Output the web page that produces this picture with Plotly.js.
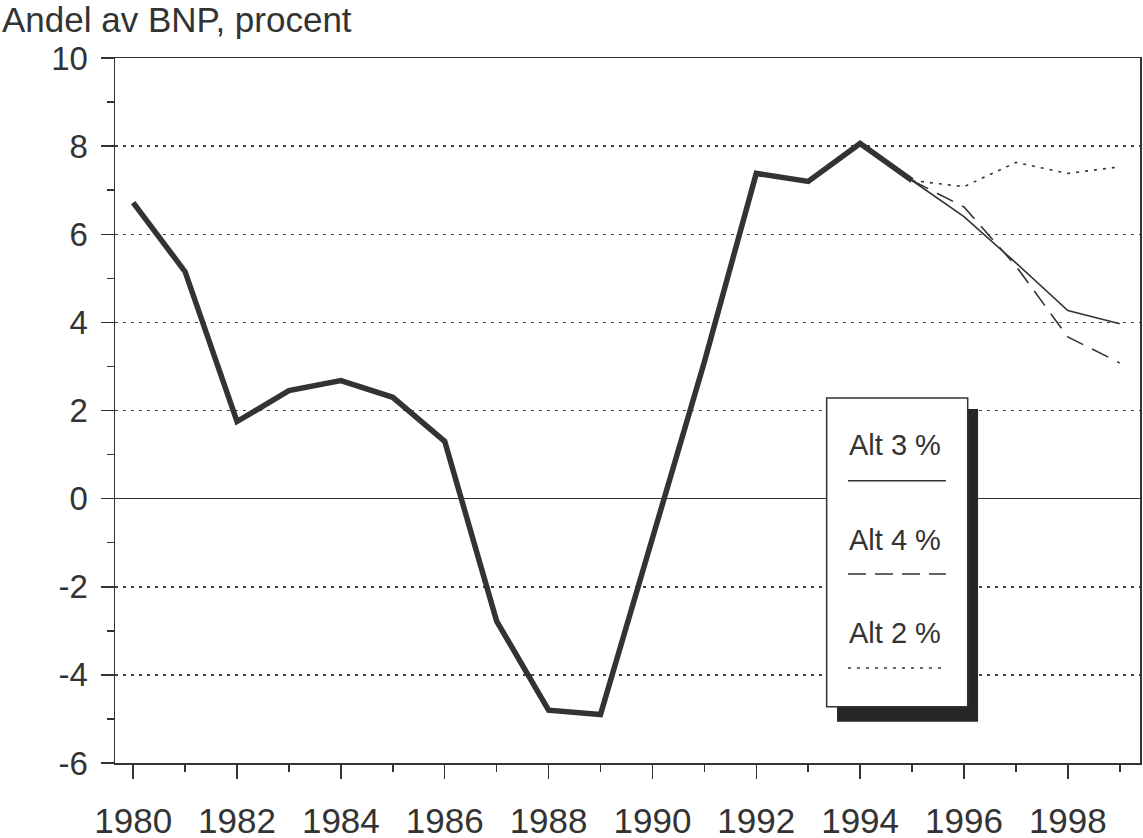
<!DOCTYPE html>
<html>
<head>
<meta charset="utf-8">
<script src="https://cdn.plot.ly/plotly-3.0.1.min.js"></script>
<style>html,body{margin:0;padding:0;background:#fff;}#chart{width:1143px;height:838px;}</style>
</head>
<body>
<div id="chart"></div>
<script>
// Data
const histYears = [1980,1981,1982,1983,1984,1985,1986,1987,1988,1989,1990,1991,1992,1993,1994,1995];
const histValues = [6.72,5.15,1.75,2.45,2.68,2.3,1.3,-2.78,-4.8,-4.9,-0.9,3.1,7.38,7.2,8.06,7.22];
const projYears = [1995,1996,1997,1998,1999];
const alt3 = [7.22,6.4,5.35,4.27,3.97];
const alt4 = [7.22,6.62,5.28,3.67,3.08];
const alt2 = [7.22,7.08,7.63,7.38,7.53];
const seriesNames = ['Alt 3 %','Alt 4 %','Alt 2 %'];
const xTickVals = [1980,1982,1984,1986,1988,1990,1992,1994,1996,1998];
const xTickText = ['1980','1982','1984','1986','1988','1990','1992','1994','1996','1998'];
const yTickVals = [-6,-4,-2,0,2,4,6,8,10];
const yTickText = ['-6','-4','-2','0','2','4','6','8','10'];
const titleText = 'Andel av BNP, procent';

const ink = '#333333';
const font = 'Liberation Sans, Arial, Helvetica, sans-serif';

const traces = [
  {x: histYears, y: histValues, mode: 'lines', line: {color: ink, width: 5.5}, showlegend: false, name: 'Utfall'},
  {x: projYears, y: alt3, mode: 'lines', line: {color: ink, width: 1.6}, showlegend: false, name: seriesNames[0]},
  {x: projYears, y: alt4, mode: 'lines', line: {color: ink, width: 1.6, dash: '18px,10px'}, showlegend: false, name: seriesNames[1]},
  {x: projYears, y: alt2, mode: 'lines', line: {color: ink, width: 1.6, dash: '3px,6px'}, showlegend: false, name: seriesNames[2]}
];

// Legend box geometry (paper coords)
const lgX0 = 0.6943, lgX1 = 0.8319, lgY0 = 0.0799, lgY1 = 0.5177;
const shX0 = 0.7044, shX1 = 0.8420, shY0 = 0.0586, shY1 = 0.5021;
const lnX0 = 0.7151, lnX1 = 0.8107;
const lnY = [0.4004, 0.2681, 0.1348];
const txY = [0.4511, 0.3163, 0.1844];
const dashes = ['solid', '18px,9px', '3px,6px'];

const shapes = [
  {type: 'rect', xref: 'paper', yref: 'paper', x0: shX0, x1: shX1, y0: shY0, y1: shY1, fillcolor: '#262626', line: {width: 0}, layer: 'above'},
  {type: 'rect', xref: 'paper', yref: 'paper', x0: lgX0, x1: lgX1, y0: lgY0, y1: lgY1, fillcolor: '#ffffff', line: {color: ink, width: 1.5}, layer: 'above'}
];
const annotations = [
  {text: titleText, xref: 'paper', yref: 'paper', x: -0.1122, y: 1.085, xanchor: 'left', yanchor: 'top', showarrow: false, font: {family: font, size: 35, color: ink}}
];
for (let i = 0; i < 3; i++) {
  shapes.push({type: 'line', xref: 'paper', yref: 'paper', x0: lnX0, x1: lnX1, y0: lnY[i], y1: lnY[i], line: {color: ink, width: 1.5, dash: dashes[i]}, layer: 'above'});
  annotations.push({text: seriesNames[i], xref: 'paper', yref: 'paper', x: 0.761, y: txY[i], xanchor: 'center', yanchor: 'middle', showarrow: false, font: {family: font, size: 29, color: ink}});
}

const layout = {
  width: 1143, height: 838,
  margin: {l: 115, r: 3, t: 58, b: 75},
  paper_bgcolor: '#ffffff', plot_bgcolor: '#ffffff',
  font: {family: font, color: ink, size: 34},
  showlegend: false,
  xaxis: {
    range: [1979.65, 1999.39],
    tickvals: xTickVals, ticktext: xTickText,
    ticks: 'outside', ticklen: 14, tickwidth: 1.5, tickcolor: ink,
    minor: {ticks: 'outside', ticklen: 7, tickwidth: 1.5, tickcolor: ink, dtick: 1, tick0: 1979, showgrid: false},
    showline: true, linecolor: ink, linewidth: 1.5, mirror: true,
    showgrid: false, zeroline: false,
    tickfont: {family: font, size: 35, color: ink},
    ticklabelstandoff: 12
  },
  yaxis: {
    range: [-6, 10],
    tickvals: yTickVals, ticktext: yTickText,
    ticks: 'outside', ticklen: 13, tickwidth: 1.5, tickcolor: ink,
    minor: {ticks: 'outside', ticklen: 7, tickwidth: 1.5, tickcolor: ink, dtick: 1, tick0: 0, showgrid: false},
    showline: true, linecolor: ink, linewidth: 1.5, mirror: true,
    showgrid: true, gridcolor: '#444444', gridwidth: 1.5, griddash: '3px,5px',
    zeroline: true, zerolinecolor: ink, zerolinewidth: 1.5,
    tickfont: {family: font, size: 33, color: ink},
    ticklabelstandoff: 6
  },
  shapes: shapes,
  annotations: annotations
};

Plotly.newPlot('chart', traces, layout, {displayModeBar: false, staticPlot: true});
</script>
</body>
</html>
